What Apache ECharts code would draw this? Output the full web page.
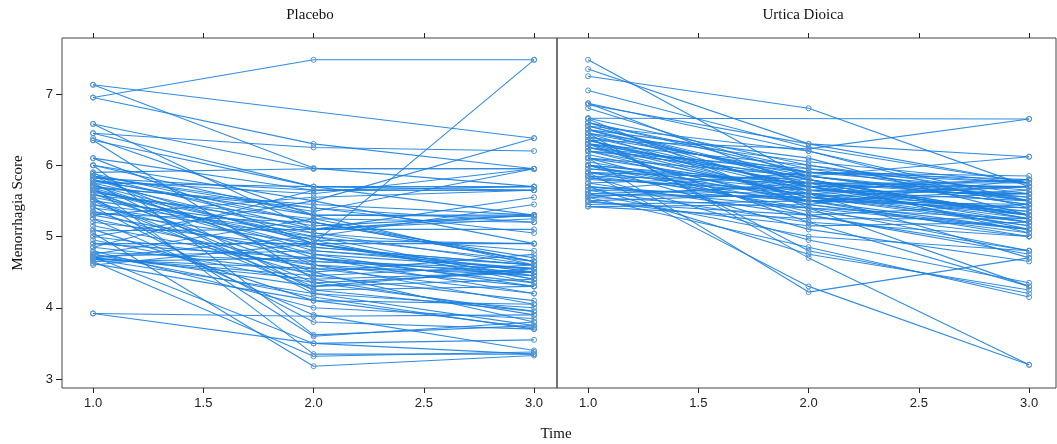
<!DOCTYPE html>
<html>
<head>
<meta charset="utf-8">
<script src="https://cdn.jsdelivr.net/npm/echarts@6/dist/echarts.min.js"></script>
<style>html,body{margin:0;padding:0;background:#fff}#c{width:1057px;height:444px}</style>
</head>
<body>
<div id="c"></div>
<script>
var timePoints = [1, 2, 3];
var xTicks = [1, 1.5, 2, 2.5, 3];
var yTicks = [3, 4, 5, 6, 7];
var panelNames = ['Placebo', 'Urtica Dioica'];

var placeboT1 = [6.95,7.13,7.13,6.95,6.58,6.45,6.45,6.38,6.35,6.35,6.1,6.1,6.0,6.0,5.9,5.88,5.85,5.85,5.82,5.8,
  5.78,5.75,5.75,5.72,5.7,5.7,5.68,5.65,5.62,5.6,5.58,5.55,5.52,5.5,5.45,5.42,5.4,5.35,5.32,5.3,
  5.25,5.2,5.15,5.1,5.08,5.05,5.0,4.95,4.9,4.85,4.8,4.78,4.75,4.75,4.72,4.72,4.7,4.7,4.68,4.68,
  4.65,4.65,4.62,4.6,3.92,3.92,5.55,5.9,6.58,5.78,5.65,5.3,4.85,5.0,5.85,
  5.8,5.72,5.68,5.6,5.5,5.45,5.35,5.75,5.65,5.25,4.9,4.75,4.7,5.85,6.0];
var placeboT2 = [7.48,null,5.96,6.3,5.95,6.25,5.7,5.3,5.7,4.4,5.65,4.9,5.5,3.62,5.95,5.2,5.1,4.6,5.65,4.9,
  5.3,4.2,5.05,4.7,5.4,3.35,4.8,5.0,5.15,4.5,5.25,4.95,4.3,5.1,4.65,3.8,5.0,4.45,5.2,4.75,
  3.9,4.85,4.55,4.1,5.1,3.18,4.6,4.35,4.9,4.5,4.0,4.65,5.25,4.3,4.8,3.5,4.4,5.0,4.2,4.55,
  3.32,4.7,4.1,4.9,3.88,3.5,3.6,4.25,5.1,5.6,4.85,5.55,5.65,5.5,5.35,
  5.2,4.95,5.45,4.75,4.25,5.05,4.9,5.7,4.35,4.6,4.7,4.15,4.45,5.4,5.3];
var placeboT3 = [7.48,6.38,5.7,5.95,5.95,6.2,5.65,4.6,5.3,3.9,5.65,4.5,4.9,3.75,5.95,4.65,5.25,4.3,5.7,4.45,
  5.28,4.0,4.6,4.2,5.2,3.35,4.55,4.4,5.3,3.8,4.65,4.9,4.55,5.1,4.5,3.7,5.45,4.1,4.65,4.3,
  3.4,4.6,4.2,3.72,5.55,3.33,4.45,3.95,4.9,4.75,3.85,4.55,5.2,4.4,4.6,3.55,4.5,4.65,3.75,4.5,
  3.38,4.35,4.05,7.48,3.9,3.35,3.8,4.3,5.3,5.95,4.6,5.65,5.65,6.38,5.95,
  4.7,4.35,5.3,4.55,3.95,4.8,4.4,5.7,4.5,4.05,4.45,3.7,4.6,5.05,5.3];

var urticaT1 = [7.48,7.35,7.25,7.05,6.87,6.87,6.85,6.66,6.6,6.6,6.55,6.55,6.5,6.5,6.45,6.45,6.4,6.4,6.35,6.35,
  6.3,6.3,6.25,6.25,6.2,6.2,6.66,6.1,6.1,6.05,6.0,6.0,5.95,5.9,5.9,5.85,5.85,5.82,5.75,5.75,
  5.7,5.7,5.65,5.65,5.6,5.6,5.58,5.55,5.55,5.5,5.5,5.48,5.45,5.42,5.42,6.45,6.1,5.9,6.2,6.3,
  6.8,6.0,6.65,5.55,6.15,6.5,5.65,6.35,6.0,5.8,
  6.6,6.45,6.35,6.25,6.2,6.1,6.0,5.9,5.85,5.7,5.6,6.55,6.4,5.95,6.3];
var urticaT2 = [5.8,6.3,6.8,6.25,6.2,5.7,6.3,6.0,5.9,5.6,6.2,5.75,5.65,6.1,5.5,5.85,5.7,4.8,6.23,5.55,
  5.8,5.2,5.75,5.9,5.45,5.6,null,5.3,5.85,5.5,5.7,5.1,5.65,5.8,5.4,4.95,5.75,5.6,5.3,5.85,
  5.5,4.75,5.6,5.2,5.7,5.0,5.55,5.4,5.75,5.15,5.6,5.3,5.5,5.25,5.45,4.7,4.22,4.3,5.95,6.0,
  5.85,5.75,5.4,4.85,5.5,5.8,5.9,5.65,5.35,5.65,
  5.95,6.05,5.7,5.55,5.85,5.65,5.45,5.6,5.5,5.4,5.55,5.8,5.9,5.75,5.55];
var urticaT3 = [5.3,5.75,5.7,5.75,5.4,5.2,6.12,5.5,5.75,4.7,5.5,5.1,5.8,5.3,5.0,5.55,5.7,4.2,6.65,5.4,
  5.25,4.3,5.6,5.8,5.1,5.2,6.65,4.8,5.45,5.65,5.35,4.65,5.5,5.05,5.25,4.35,5.75,5.15,5.45,6.12,
  5.6,4.25,5.3,5.0,5.8,4.8,5.35,5.1,5.55,5.2,5.7,4.75,5.4,5.25,5.8,3.2,4.7,3.2,5.75,5.6,
  5.5,5.7,4.3,4.15,5.45,5.3,5.85,5.25,5.0,5.6,
  5.5,5.75,5.3,5.15,5.45,5.6,5.05,5.4,5.1,4.8,5.7,5.25,5.65,5.3,5.2];

var groups = [[placeboT1, placeboT2, placeboT3], [urticaT1, urticaT2, urticaT3]];

var lineColor = '#1a7fe0';
var symColor = '#5594d0';
var series = [];
groups.forEach(function (g, gi) {
  for (var i = 0; i < g[0].length; i++) {
    var d = [];
    for (var t = 0; t < timePoints.length; t++) {
      if (g[t][i] !== null) d.push([timePoints[t], g[t][i]]);
    }
    series.push({
      type: 'line', xAxisIndex: gi, yAxisIndex: gi, data: d,
      symbol: 'circle', symbolSize: 5, showSymbol: true,
      lineStyle: {color: lineColor, width: 1.1, opacity: 0.9},
      itemStyle: {color: 'rgba(255,255,255,0)', borderColor: symColor, borderWidth: 1},
      emphasis: {disabled: true}, silent: true, animation: false
    });
  }
});

var grids = [
  {left: 62, top: 38, width: 495, height: 350, show: true, borderColor: '#444', borderWidth: 1, backgroundColor: 'transparent'},
  {left: 557, top: 38, width: 499, height: 350, show: true, borderColor: '#444', borderWidth: 1, backgroundColor: 'transparent'}
];
var xMax = [3.104, 3.122];
var tickStyle = {show: true, inside: false, length: 5, lineStyle: {color: '#222', width: 1}, customValues: xTicks};
var xAxes = [], yAxes = [];
[0, 1].forEach(function (gi) {
  xAxes.push({
    type: 'value', gridIndex: gi, min: 0.859, max: xMax[gi], position: 'bottom',
    axisLine: {show: false}, splitLine: {show: false},
    axisTick: tickStyle,
    axisLabel: {show: true, customValues: xTicks, margin: 9, color: '#222', fontFamily: 'Liberation Sans', fontSize: 13,
      formatter: function (v) { return v.toFixed(1); }}
  });
  yAxes.push({
    type: 'value', gridIndex: gi, min: 2.874, max: 7.786,
    axisLine: {show: false}, splitLine: {show: false},
    axisTick: {show: gi === 0, inside: false, length: 6, lineStyle: {color: '#222'}, customValues: yTicks},
    axisLabel: {show: gi === 0, customValues: yTicks, margin: 9, color: '#222', fontFamily: 'Liberation Sans', fontSize: 13}
  });
});
[0, 1].forEach(function (gi) {
  xAxes.push({
    type: 'value', gridIndex: gi, min: 0.859, max: xMax[gi], position: 'top',
    axisLine: {show: false}, splitLine: {show: false},
    axisTick: tickStyle, axisLabel: {show: false}
  });
});

var font = '15px "Liberation Serif"';
var option = {
  backgroundColor: '#fff',
  animation: false,
  grid: grids,
  xAxis: xAxes,
  yAxis: yAxes,
  series: series,
  graphic: [
    {type: 'text', style: {text: panelNames[0], x: 310, y: 15, font: font, fill: '#111', align: 'center', verticalAlign: 'middle'}},
    {type: 'text', style: {text: panelNames[1], x: 803, y: 15, font: font, fill: '#111', align: 'center', verticalAlign: 'middle'}},
    {type: 'text', style: {text: 'Time', x: 556, y: 434, font: font, fill: '#111', align: 'center', verticalAlign: 'middle'}},
    {type: 'text', rotation: Math.PI / 2, x: 18, y: 213, style: {text: 'Menorrhagia Score', x: 0, y: 0, font: font, fill: '#111', align: 'center', verticalAlign: 'middle'}}
  ]
};
var chart = echarts.init(document.getElementById('c'), null, {renderer: 'canvas'});
chart.setOption(option);
</script>
</body>
</html>
